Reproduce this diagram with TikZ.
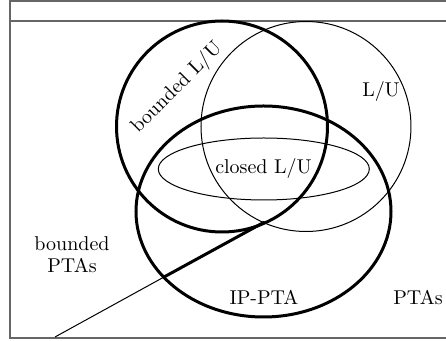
\documentclass[tikz,border=0pt]{standalone}
\usetikzlibrary{shapes.geometric}
\begin{document}
\begin{tikzpicture}[x=0.5pt,y=-0.5pt,
  frame/.style={draw=black!60,line width=0.7pt},
  thickset/.style={draw,line width=1.5pt,inner sep=0pt,outer sep=0pt},
  thinset/.style={draw,line width=0.5pt,inner sep=0pt,outer sep=0pt},
  lbl/.style={inner sep=0pt,font=\fontsize{10}{11}\selectfont}]
\useasboundingbox (0,0) rectangle (446,341);
% frame
\draw[frame] (446,1) -- (10,1) -- (10,338) -- (446,338);
\draw[frame] (10,21) -- (446,21);
% sets
\node[thinset,circle,minimum size=105pt] (lu) at (306,126.5) {};
\node[thinset,ellipse,minimum width=105.5pt,minimum height=31pt] (closed) at (263.8,169) {};
\node[thickset,circle,minimum size=105.5pt] (blu) at (222,126.5) {};
\node[thickset,ellipse,minimum width=127.5pt,minimum height=105.5pt] (ip) at (263.5,211.5) {};
% dividing line
\coordinate (lend) at (55,337);
\coordinate (cross) at (163.7,277.2);
\coordinate (meet) at (264,222.3);
\draw[line width=0.5pt] (lend) -- (cross);
\draw[line width=1.5pt,line cap=round] (cross) -- (meet);
% labels
\node[lbl,rotate=45] (tblu) at (177,88) {bounded L/U};
\node[lbl] (tlu) at (381,92) {L/U};
\node[lbl] (tclosed) at (263.5,169) {closed L/U};
\node[lbl,align=center] (tbp) at (72,255) {bounded\\PTAs};
\node[lbl] (tip) at (264,297) {IP-PTA};
\node[lbl] (tpta) at (418,297) {PTAs};
\end{tikzpicture}
\end{document}
